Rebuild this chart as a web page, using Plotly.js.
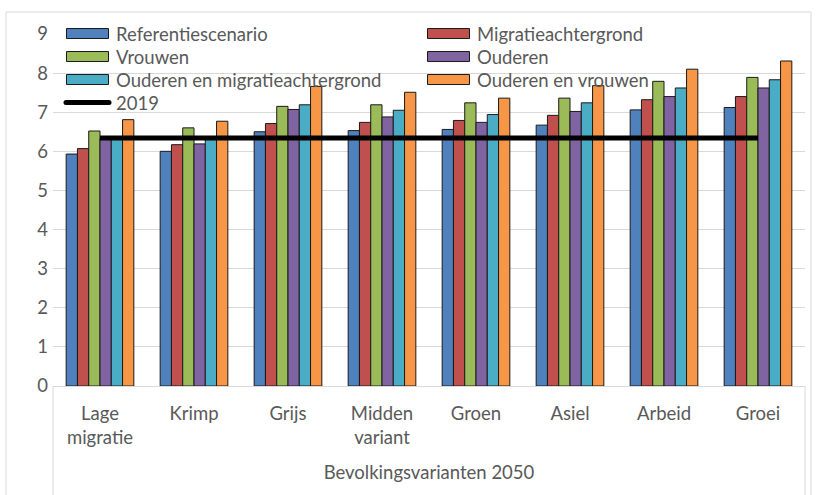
<!DOCTYPE html>
<html>
<head>
<meta charset="utf-8">
<script src="https://cdn.plot.ly/plotly-3.0.1.min.js"></script>
<style>
html,body{margin:0;padding:0;background:#fff;}
#chart{width:817px;height:495px;}
</style>
</head>
<body>
<div id="chart"></div>
<script>
var categories = ["Lage<br>migratie", "Krimp", "Grijs", "Midden<br>variant", "Groen", "Asiel", "Arbeid", "Groei"];
var seriesNames = ["Referentiescenario", "Migratieachtergrond", "Vrouwen", "Ouderen", "Ouderen en migratieachtergrond", "Ouderen en vrouwen"];
var referentiescenario = [5.93, 6.00, 6.50, 6.53, 6.56, 6.67, 7.06, 7.12];
var migratieachtergrond = [6.07, 6.17, 6.71, 6.74, 6.79, 6.92, 7.32, 7.40];
var vrouwen = [6.52, 6.60, 7.15, 7.19, 7.24, 7.36, 7.79, 7.89];
var ouderen = [6.33, 6.19, 7.07, 6.88, 6.74, 7.02, 7.40, 7.62];
var ouderenMigratie = [6.35, 6.33, 7.19, 7.05, 6.94, 7.24, 7.62, 7.83];
var ouderenVrouwen = [6.81, 6.77, 7.66, 7.51, 7.36, 7.68, 8.10, 8.31];
var line2019Name = "2019";
var line2019 = [6.34, 6.34, 6.34, 6.34, 6.34, 6.34, 6.34, 6.34];
var xAxisTitle = "Bevolkingsvarianten 2050";
var colors = ["#4F81BD", "#C0504D", "#9BBB59", "#8064A2", "#4BACC6", "#F79646"];

var legendRows = ["legend", "legend", "legend2", "legend2", "legend3", "legend3", "legend4"];
var seriesValues = [referentiescenario, migratieachtergrond, vrouwen, ouderen, ouderenMigratie, ouderenVrouwen];
var traces = seriesValues.map(function (vals, i) {
  return {
    type: "bar",
    name: seriesNames[i],
    legend: legendRows[i],
    x: categories,
    y: vals,
    marker: {color: colors[i], line: {color: "#1a1a1a", width: 1}},
    hoverinfo: "y+name"
  };
});
traces.push({
  type: "scatter",
  mode: "lines",
  name: line2019Name,
  legend: legendRows[6],
  x: categories,
  y: line2019,
  line: {color: "#000000", width: 5}
});

var FONT = "Lato, 'Open Sans', sans-serif";
var FS = 18.5;
var grey = "#595959";
function px2x(p){ return (p - 53) / 752; }
function py2y(p){ return (386 - p) / 352; }

function legendRow(topPx) {
  return {
    orientation: "h",
    x: px2x(63),
    y: py2y(topPx),
    xanchor: "left",
    yanchor: "top",
    bgcolor: "rgba(0,0,0,0)",
    borderwidth: 0,
    entrywidth: 303,
    entrywidthmode: "pixels",
    itemwidth: 43,
    traceorder: "normal",
    font: {family: FONT, size: FS, color: grey}
  };
}

var layout = {
  width: 817,
  height: 495,
  margin: {l: 53, r: 12, t: 34, b: 109},
  paper_bgcolor: "#ffffff",
  plot_bgcolor: "#ffffff",
  font: {family: FONT, size: FS, color: grey},
  barmode: "group",
  bargap: 0.28,
  bargroupgap: 0,
  showlegend: true,
  legend: legendRow(15),
  legend2: legendRow(38),
  legend3: legendRow(61),
  legend4: legendRow(84),
  xaxis: {
    type: "category",
    showgrid: false,
    showline: true,
    linecolor: "#D9D9D9",
    linewidth: 1,
    ticks: "",
    ticklabelstandoff: 11,
    tickfont: {family: FONT, size: FS, color: grey},
    title: {text: xAxisTitle, font: {family: FONT, size: FS, color: grey}, standoff: 18},
    automargin: false,
    fixedrange: true
  },
  yaxis: {
    range: [0, 9],
    dtick: 1,
    tick0: 0,
    showgrid: true,
    gridcolor: "#D9D9D9",
    gridwidth: 1,
    zeroline: false,
    showline: false,
    ticks: "",
    ticklabelstandoff: 4,
    tickfont: {family: FONT, size: FS, color: grey},
    automargin: false,
    fixedrange: true
  },
  shapes: [
    {type: "rect", xref: "paper", yref: "paper", x0: px2x(6), x1: px2x(811), y0: py2y(520), y1: py2y(12),
     line: {color: "#D9D9D9", width: 1}, fillcolor: "rgba(0,0,0,0)", layer: "below"},
    {type: "line", xref: "paper", yref: "paper", x0: 0, x1: 0, y0: 0, y1: py2y(520),
     line: {color: "#D9D9D9", width: 1}},
    {type: "line", xref: "paper", yref: "paper", x0: 1, x1: 1, y0: 0, y1: py2y(520),
     line: {color: "#D9D9D9", width: 1}}
  ]
};

function widenLegendSymbols() {
  var gd = document.getElementById("chart");
  gd.querySelectorAll(".legendpoints path").forEach(function (p) {
    p.setAttribute("d", "M-23,-5H19V5H-23Z");
  });
  gd.querySelectorAll(".legendlines path").forEach(function (p) {
    p.setAttribute("d", "M3,0H46");
    p.style.strokeLinecap = "round";
  });
}

Plotly.newPlot("chart", traces, layout, {staticPlot: true, displayModeBar: false}).then(widenLegendSymbols);
</script>
</body>
</html>
